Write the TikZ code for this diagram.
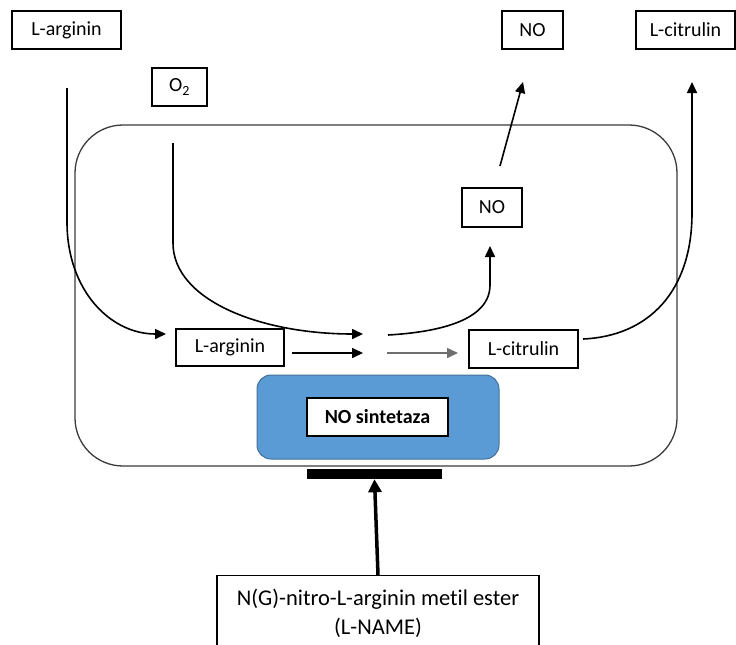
\documentclass[tikz,border=0pt]{standalone}
\usepackage{fontspec}
\setmainfont[Ligatures={NoCommon}]{Carlito}
\usetikzlibrary{arrows.meta}
\definecolor{nosfill}{HTML}{5B9BD5}
\definecolor{nosedge}{HTML}{41719C}
\definecolor{celledge}{HTML}{3A3A3A}
\definecolor{grayarrow}{HTML}{6F6F6F}
\begin{document}
\begin{tikzpicture}[x=1pt,y=-1pt,
  lbl/.style={draw, line width=1.2pt, fill=white, inner sep=0pt, minimum height=38pt,
              font=\fontsize{20}{24}\selectfont},
  conn/.style={line width=1.6pt, -{Triangle[length=11pt,width=10pt]}},
  thickconn/.style={line width=3.5pt, -{Triangle[length=13pt,width=13pt]}}]
\useasboundingbox (0,0) rectangle (736,645);
\clip (0,0) rectangle (736,645);
% cell
\node[draw=celledge, line width=1.3pt, rounded corners=48pt, minimum width=602pt, minimum height=341pt, inner sep=0pt] (cell) at (376,295.5) {};
% enzyme
\node[fill=nosfill, draw=nosedge, line width=1pt, rounded corners=14pt, minimum width=242pt, minimum height=84pt, inner sep=0pt] (nos) at (378,417) {};
\node[lbl, minimum width=141pt, font=\fontsize{20}{24}\selectfont\bfseries] (nost) at (377.5,417) {NO sintetaza};
% outside labels
\node[lbl, minimum width=109pt] (argT) at (66.5,30) {L-arginin};
\node[lbl, minimum width=55pt] (o2) at (179.5,87) {O\textsubscript{2}};
\node[lbl, minimum width=61pt] (noT) at (532.5,30) {NO};
\node[lbl, minimum width=99pt] (citT) at (685.5,30) {L-citrulin};
% inside labels
\node[lbl, minimum width=108pt, minimum height=37pt] (argI) at (230,347.5) {L-arginin};
\node[lbl, minimum width=109pt] (citI) at (523.5,349) {L-citrulin};
\node[lbl, minimum width=60pt, minimum height=39pt] (noI) at (492,207.5) {NO};
% inhibitor
\node[fill=black, minimum width=135pt, minimum height=10pt, inner sep=0pt] (bar) at (374.5,474) {};
\node[draw, line width=1.2pt, minimum width=322pt, minimum height=84pt, inner sep=0pt, anchor=north] (lname) at (378,575) {};
\node[align=center, anchor=north, inner sep=0pt, font=\fontsize{22.5}{29}\selectfont] (lnametext) at (378,589) {N(G)-nitro-L-arginin metil ester\\(L-NAME)};
% coordinates
\coordinate (a1) at (67,88);
\coordinate (a2) at (166,334);
\coordinate (o1) at (173,143);
\coordinate (o2e) at (363,334);
\coordinate (r1) at (292,353);
\coordinate (r2) at (363,353);
\coordinate (p1) at (387,353);
\coordinate (p2) at (458,353);
\coordinate (n1) at (388,335);
\coordinate (n2) at (490,246);
\coordinate (nu1) at (500,166);
\coordinate (nu2) at (523,82);
\coordinate (c1) at (583,339);
\coordinate (c2) at (692,82);
% connectors
\draw[conn] (a1) -- (67,222) .. controls (67,290) and (110,334) .. (a2);
\draw[conn] (o1) -- (173,243) .. controls (173,300) and (260,334) .. (o2e);
\draw[conn] (r1) -- (r2);
\draw[conn, draw=grayarrow] (p1) -- (p2);
\draw[conn] (n1) .. controls (440,332) and (490,320) .. (490,285) -- (n2);
\draw[conn] (nu1) -- (nu2);
\draw[conn] (c1) .. controls (650,336) and (692,290) .. (692,213) -- (c2);
\draw[thickconn] (lname.north) -- (bar.south);
\end{tikzpicture}
\end{document}
